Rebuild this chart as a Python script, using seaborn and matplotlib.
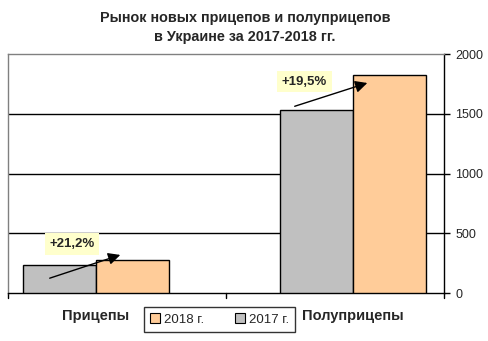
import matplotlib
matplotlib.use("Agg")
import matplotlib.pyplot as plt
import seaborn as sns
import pandas as pd
from matplotlib.patches import Patch

categories = ["Прицепы", "Полуприцепы"]
years = ["2017 г.", "2018 г."]
sales_2017 = [233, 1530]
sales_2018 = [282, 1828]
growth_labels = ["+21,2%", "+19,5%"]
y_ticks = [0, 500, 1000, 1500, 2000]

sns.set_theme(style="white")
plt.rcParams["font.family"] = ["Liberation Sans", "DejaVu Sans"]

df = pd.DataFrame({
    "cat": categories * 2,
    "year": [years[0]] * 2 + [years[1]] * 2,
    "value": sales_2017 + sales_2018,
})

colors = {years[0]: "#C0C0C0", years[1]: "#FFCC99"}

fig = plt.figure(figsize=(4.88, 3.41), dpi=100)
ax = fig.add_axes([0.0164, 0.1399, 0.8934, 0.7017])

sns.barplot(data=df, x="cat", y="value", hue="year", hue_order=years,
            palette=colors, width=0.568, gap=0, edgecolor="black",
            linewidth=1.0, saturation=1, legend=False, ax=ax, zorder=3)

ax.set_xlim(-0.342, 1.354)
ax.set_ylim(0, 2000)
ax.set_xlabel("")
ax.set_ylabel("")

# horizontal gridlines
for v in y_ticks[1:-1]:
    ax.axhline(v, color="black", linewidth=1.0, zorder=1)

# right-hand value axis
ax.yaxis.tick_right()
ax.set_yticks(y_ticks)
ax.set_yticklabels([str(t) for t in y_ticks], fontsize=9)
ax.tick_params(axis="y", direction="out", length=4, width=1, color="black",
               pad=4, right=True, left=False)

# category labels under group centres, separators at category borders
ax.set_xticks([0, 1])
ax.set_xticklabels(categories, fontsize=10.5, fontweight="bold")
ax.tick_params(axis="x", length=0, pad=11)
for xb in [-0.342, 0.506, 1.354]:
    ax.plot([xb, xb], [0, -0.018], transform=ax.get_xaxis_transform(),
            color="black", linewidth=1, clip_on=False)

for side in ["left", "top"]:
    ax.spines[side].set_color("#808080")
    ax.spines[side].set_linewidth(1)
for side in ["right", "bottom"]:
    ax.spines[side].set_color("black")
    ax.spines[side].set_linewidth(1)

# growth arrows and labels
arrows = [((-0.19, 119), (0.105, 328)), ((0.763, 1556), (1.066, 1765))]
label_pos = [(-0.093, 412), (0.811, 1769)]
for (start, end), pos, txt in zip(arrows, label_pos, growth_labels):
    ax.annotate("", xy=end, xytext=start,
                arrowprops=dict(arrowstyle="-|>,head_length=0.6,head_width=0.3",
                                color="black", lw=1, mutation_scale=12),
                zorder=5)
    ax.text(pos[0], pos[1], txt, ha="center", va="center", fontsize=9.5,
            fontweight="bold", zorder=6,
            bbox=dict(boxstyle="square,pad=0.35", facecolor="#FFFFCC",
                      edgecolor="none"))

fig.suptitle("Рынок новых прицепов и полуприцепов\nв Украине за 2017-2018 гг.",
             x=0.502, y=0.968, fontsize=10.4, fontweight="bold",
             linespacing=1.5)

handles = [Patch(facecolor=colors[years[1]], edgecolor="black", lw=0.8),
           Patch(facecolor=colors[years[0]], edgecolor="black", lw=0.8)]
fig.legend(handles, [years[1], years[0]], ncol=2, loc="center",
           bbox_to_anchor=(219.5 / 488, 1 - 319.5 / 341), fontsize=9.5,
           frameon=True, fancybox=False, edgecolor="black",
           handlelength=0.75, handleheight=0.75, handletextpad=0.3,
           columnspacing=2.4, borderpad=0.45, borderaxespad=0)

fig.savefig("out.png", dpi=100, facecolor="white")
